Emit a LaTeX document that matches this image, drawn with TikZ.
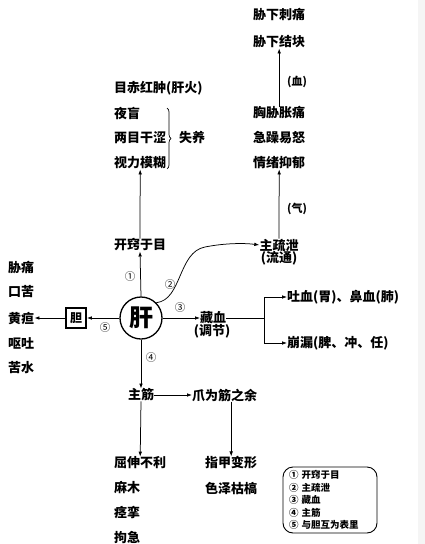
\documentclass[tikz,border=0pt]{standalone}
\usepackage{fontspec}
\setmainfont{Noto Sans CJK SC}
\usetikzlibrary{arrows.meta,decorations.pathreplacing}
\begin{document}
\begin{tikzpicture}[x=1pt,y=-1pt,
  every node/.style={inner sep=0pt,font=\fontsize{13}{13}\selectfont\bfseries},
  lbl/.style={anchor=west},
  arr/.style={-{Latex[length=5pt,width=3.6pt]},line width=0.75pt},
  ln/.style={line width=0.75pt},
  num/.style={font=\fontsize{10.5}{10.5}\selectfont},
  small/.style={font=\fontsize{11}{11}\selectfont\bfseries}]
\useasboundingbox (0,0) rectangle (425,544);
\fill[white] (0,0) rectangle (425,544);
\fill[black!4] (418,0) rectangle (425,544);
% top right column
\node[lbl] (xxct) at (253,15) {胁下刺痛};
\node[lbl] (xxjk) at (253,42) {胁下结块};
\node[small] (xue) at (297,82) {(血)};
\node[lbl] (xxzt) at (253,113) {胸胁胀痛};
\node[lbl] (jzyn) at (253,138) {急躁易怒};
\node[lbl] (qxyy) at (253,163) {情绪抑郁};
\node[small] (qi) at (297,209) {(气)};
% top left column
\node[lbl] (mch) at (114,88) {目赤红肿(肝火)};
\node[lbl] (ym) at (114,113) {夜盲};
\node[lbl] (lmgs) at (114,138) {两目干涩};
\node[lbl] (slmh) at (114,163) {视力模糊};
\node[lbl] (sy) at (179,138) {失养};
\draw[decorate,decoration={brace,amplitude=4pt},line width=0.7pt] (167,108) -- (167,169);
% centre
\node (kq) at (140,245) {开窍于目};
\node (zsx) at (279,245) {主疏泄};
\node (lt) at (279,258) {(流通)};
\node[circle,draw,line width=1.3pt,minimum size=42pt,font=\fontsize{24}{24}\selectfont\bfseries] (gan) at (141,318) {肝};
\node[draw,line width=1.8pt,minimum size=20pt,font=\fontsize{12}{12}\selectfont\bfseries] (dan) at (76,318) {胆};
\node[lbl] (xt) at (8,268) {胁痛};
\node[lbl] (kk) at (8,292) {口苦};
\node[lbl] (hd) at (8,318) {黄疸};
\node[lbl] (ot) at (8,343) {呕吐};
\node[lbl] (ks) at (8,368) {苦水};
\node[lbl] (cx) at (200,318) {藏血};
\node (tj) at (212,331) {(调节)};
\node[lbl] (tx) at (287,297) {吐血(胃)、鼻血(肺)};
\node[lbl] (bl) at (287,343) {崩漏(脾、冲、任)};
\coordinate (br) at (264,318);
% numbers
\node[num] (n1) at (130,277) {①};
\node[num] (n2) at (170,285) {②};
\node[num] (n3) at (180,308) {③};
\node[num] (n4) at (151,358) {④};
\node[num] (n5) at (105,328) {⑤};
% bottom
\node (zj) at (141,395) {主筋};
\node[lbl] (zw) at (192,395) {爪为筋之余};
\node[lbl] (qs) at (114,463) {屈伸不利};
\node[lbl] (mm) at (114,488) {麻木};
\node[lbl] (jl) at (114,513) {痉挛};
\node[lbl] (jj) at (114,538) {拘急};
\node[lbl] (zjbx) at (205,463) {指甲变形};
\node[lbl] (szkg) at (205,488) {色泽枯槁};
\node[draw,rounded corners=10pt,line width=0.9pt,text width=82pt,inner xsep=6pt,inner ysep=3pt,minimum height=66pt,align=left,font=\fontsize{9.5}{12.5}\selectfont\bfseries] (leg) at (330,500) {① 开窍于目\\② 主疏泄\\③ 藏血\\④ 主筋\\⑤ 与胆互为表里};
% connectors
\draw[arr] (xxzt.north) -- (xxjk.south);
\draw[arr] (kq.north) -- (slmh.south);
\draw[arr] (zsx.north) -- (qxyy.south);
\draw[arr] (gan.north) -- (kq.south);
\draw[arr] (gan.45) .. controls (182,300) and (178,252) .. (205,247) .. controls (225,243) and (245,243) .. (zsx.west);
\draw[arr] (gan.east) -- (cx.west);
\draw[ln] (cx.east) -- (br);
\draw[ln] (br |- tx.west) -- (br |- bl.west);
\draw[arr] (br |- tx.west) -- (tx.west);
\draw[arr] (br |- bl.west) -- (bl.west);
\draw[arr] (gan.west) -- (dan.east);
\draw[arr] (dan.west) -- (hd.east);
\draw[arr] (gan.south) -- (zj.north);
\draw[arr] (zj.east) -- (zw.west);
\draw[arr] (zj.south) -- (qs.north);
\draw[arr] (zw.south -| zjbx.north) -- (zjbx.north);
\end{tikzpicture}
\end{document}
